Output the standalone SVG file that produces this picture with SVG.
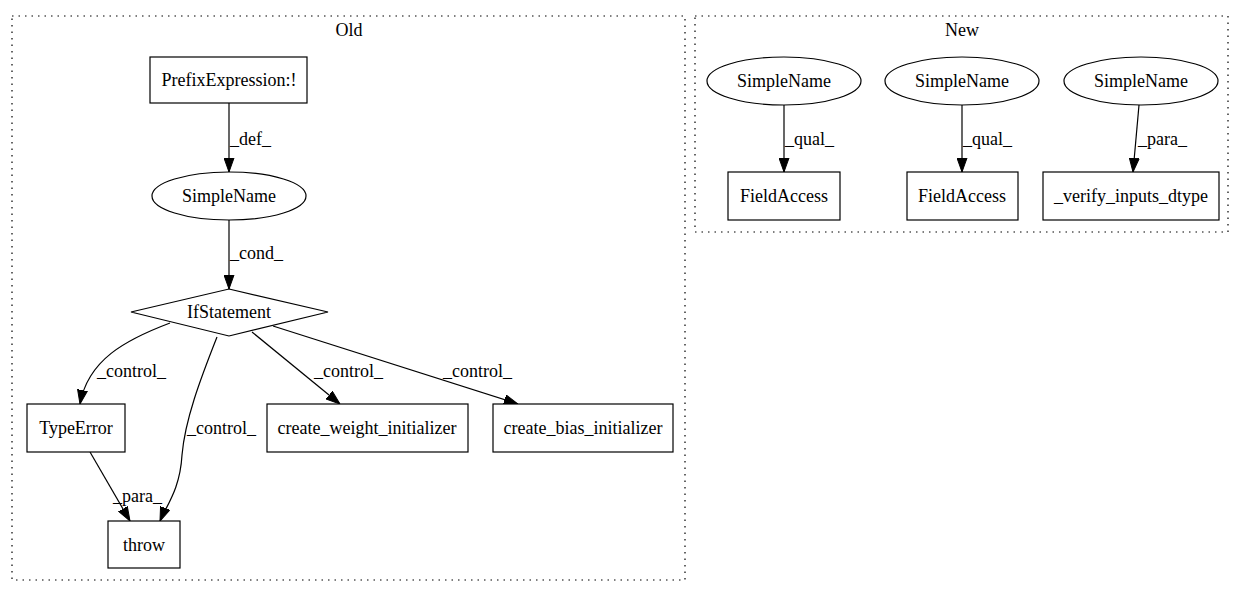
<svg xmlns="http://www.w3.org/2000/svg" width="1245" height="596" viewBox="0 0 1245 596">
<style>
text{font-family:"Liberation Serif","Times New Roman",serif;font-size:18px;fill:#000}
.n{fill:#fff;stroke:#000;stroke-width:1.2}
.c{fill:none;stroke:#000;stroke-width:1.2;stroke-dasharray:1.5,5}
.e{fill:none;stroke:#000;stroke-width:1.2;marker-end:url(#a)}
.m{text-anchor:middle}
</style>
<defs>
<marker id="a" markerUnits="userSpaceOnUse" markerWidth="14" markerHeight="11" refX="14" refY="5.5" orient="auto">
<path d="M0,0.5 L14,5.5 L0,10.5 z" fill="#000" stroke="#000" stroke-width="1"/>
</marker>
</defs>
<rect width="1245" height="596" fill="#fff"/>
<g id="cluster_old">
<rect class="c" x="12" y="16" width="673" height="564"/>
<text class="m" x="349" y="36">Old</text>
</g>
<g id="cluster_new">
<rect class="c" x="695" y="16" width="533" height="216"/>
<text class="m" x="962" y="36">New</text>
</g>
<g id="edges">
<path class="e" d="M229,103 L229,172"/>
<text x="230" y="145">_def_</text>
<path class="e" d="M229,220 L229,289"/>
<text x="230" y="259">_cond_</text>
<path class="e" d="M170,323 C125,340 88,360 80,404"/>
<text x="97" y="377">_control_</text>
<path class="e" d="M217,337 C200,380 185,420 182,455 C180,490 166,506 160,521"/>
<text x="187" y="434">_control_</text>
<path class="e" d="M252,332 L340,404"/>
<text x="314" y="377">_control_</text>
<path class="e" d="M273,326 L518,404"/>
<text x="443" y="377">_control_</text>
<path class="e" d="M90,452 L130,521"/>
<text x="113" y="502">_para_</text>
<path class="e" d="M784,105 L784,172"/>
<text x="785" y="145">_qual_</text>
<path class="e" d="M962,105 L962,172"/>
<text x="963" y="145">_qual_</text>
<path class="e" d="M1139,105 L1133,172"/>
<text x="1138" y="145">_para_</text>
</g>
<g id="prefixexpression">
<rect class="n" x="150" y="57" width="157" height="46"/>
<text class="m" x="229" y="86">PrefixExpression:!</text>
</g>
<g id="simplename_old">
<ellipse class="n" cx="229" cy="196" rx="77" ry="24"/>
<text class="m" x="229" y="202">SimpleName</text>
</g>
<g id="ifstatement">
<polygon class="n" points="229,289 328,312 229,336 131,312"/>
<text class="m" x="229" y="318">IfStatement</text>
</g>
<g id="typeerror">
<rect class="n" x="27" y="404" width="98" height="48"/>
<text class="m" x="76" y="434">TypeError</text>
</g>
<g id="create_weight_initializer">
<rect class="n" x="267" y="404" width="201" height="48"/>
<text class="m" x="367" y="434">create_weight_initializer</text>
</g>
<g id="create_bias_initializer">
<rect class="n" x="493" y="404" width="180" height="48"/>
<text class="m" x="583" y="434">create_bias_initializer</text>
</g>
<g id="throw">
<rect class="n" x="108" y="521" width="72" height="47"/>
<text class="m" x="144" y="551">throw</text>
</g>
<g id="simplename_new1">
<ellipse class="n" cx="784" cy="81" rx="77" ry="24"/>
<text class="m" x="784" y="87">SimpleName</text>
</g>
<g id="simplename_new2">
<ellipse class="n" cx="962" cy="81" rx="77" ry="24"/>
<text class="m" x="962" y="87">SimpleName</text>
</g>
<g id="simplename_new3">
<ellipse class="n" cx="1141" cy="81" rx="77" ry="24"/>
<text class="m" x="1141" y="87">SimpleName</text>
</g>
<g id="fieldaccess1">
<rect class="n" x="728" y="172" width="112" height="48"/>
<text class="m" x="784" y="202">FieldAccess</text>
</g>
<g id="fieldaccess2">
<rect class="n" x="907" y="172" width="111" height="48"/>
<text class="m" x="962" y="202">FieldAccess</text>
</g>
<g id="verify_inputs_dtype">
<rect class="n" x="1043" y="172" width="176" height="48"/>
<text class="m" x="1131" y="202">_verify_inputs_dtype</text>
</g>
</svg>
